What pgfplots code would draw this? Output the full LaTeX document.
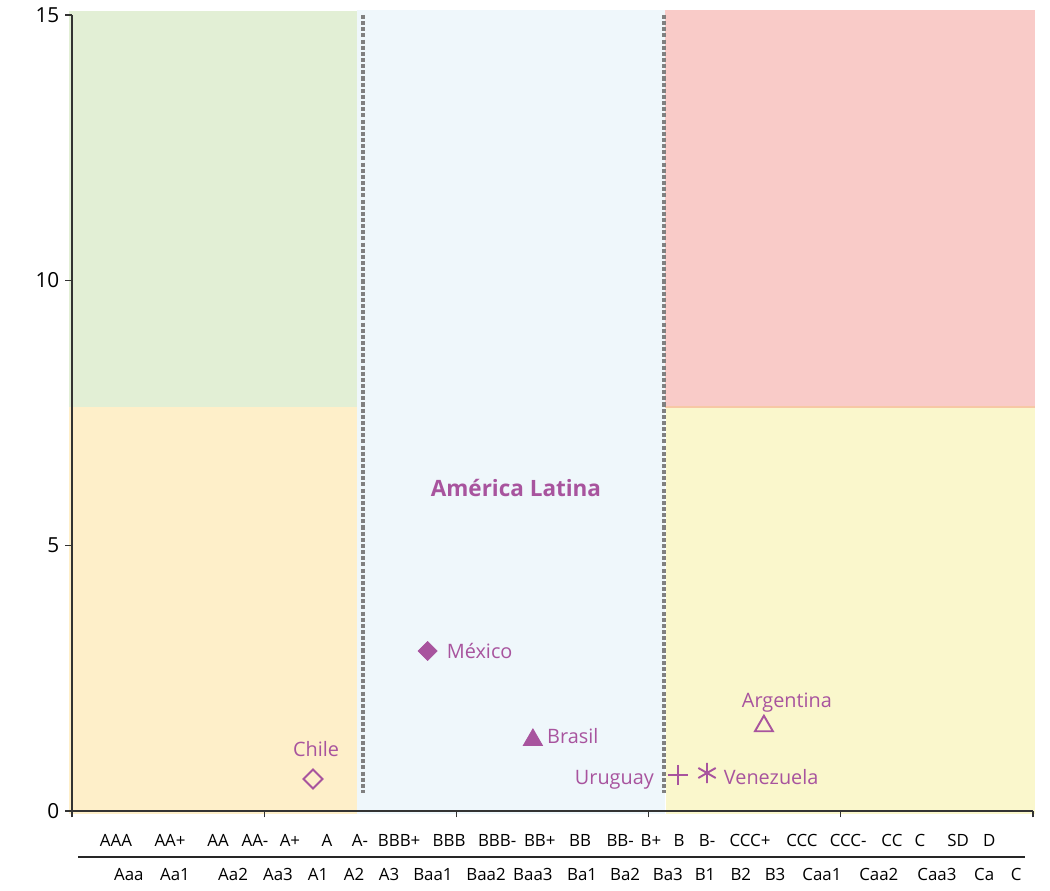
\documentclass[border=0pt]{standalone}
\usepackage{fontspec}
\setmainfont{Open Sans}
\usepackage{pgfplots}
\usepackage{pgfplotstable}
\pgfplotsset{compat=1.18}

\definecolor{zgreen}{RGB}{226,239,213}
\definecolor{zorange}{RGB}{254,239,201}
\definecolor{zblue}{RGB}{239,247,251}
\definecolor{zred}{RGB}{249,203,200}
\definecolor{zyellow}{RGB}{250,247,204}
\definecolor{zedge}{RGB}{247,200,165}
\definecolor{zpurple}{RGB}{168,84,158}
\definecolor{zdash}{RGB}{128,128,128}

% rating scales (S&P / Fitch on top, Moody's below)
\pgfplotstableread{
x y label
1.145 -0.678 AAA
2.55 -0.678 AA+
3.80 -0.678 AA
4.76 -0.678 AA-
5.67 -0.678 A+
6.63 -0.678 A
7.49 -0.678 A-
8.51 -0.678 BBB+
9.81 -0.678 BBB
11.06 -0.678 BBB-
12.17 -0.678 BB+
13.22 -0.678 BB
14.26 -0.678 BB-
15.06 -0.678 B+
15.79 -0.678 B
16.52 -0.678 B-
17.64 -0.678 CCC+
18.99 -0.678 CCC
20.19 -0.678 CCC-
21.33 -0.678 CC
22.06 -0.678 C
23.05 -0.678 SD
23.86 -0.678 D
}\sprow

\pgfplotstableread{
x y label
1.48 -1.319 Aaa
2.68 -1.319 Aa1
4.19 -1.319 Aa2
5.36 -1.319 Aa3
6.40 -1.319 A1
7.34 -1.319 A2
8.25 -1.319 A3
9.39 -1.319 Baa1
10.77 -1.319 Baa2
11.99 -1.319 Baa3
13.27 -1.319 Ba1
14.39 -1.319 Ba2
15.50 -1.319 Ba3
16.47 -1.319 B1
17.40 -1.319 B2
18.29 -1.319 B3
19.51 -1.319 Caa1
20.99 -1.319 Caa2
22.50 -1.319 Caa3
23.73 -1.319 Ca
24.56 -1.319 C
}\moodyrow

\pgfplotsset{
  country/.style={only marks, nodes near coords, point meta=explicit symbolic,
    every node near coord/.append style={inner sep=0pt, text=zpurple,
      font=\fontsize{11.3}{13}\selectfont}},
  ratings/.style={draw=none, nodes near coords, point meta=explicit symbolic,
    every node near coord/.append style={anchor=base, inner sep=0pt,
      font=\fontsize{9.6}{11}\selectfont}},
}

\begin{document}
\begin{tikzpicture}
\begin{axis}[
    width=19.22cm, height=15.92cm, scale only axis,
    xmin=0, xmax=25, ymin=0, ymax=15,
    axis x line=bottom, axis y line=left,
    axis line style={-, black!80, line width=0.6pt},
    xtick={0,5,...,25}, xticklabels={},
    ytick={0,5,10,15},
    tick align=outside, major tick length=0.13cm,
    tick style={black!80, line width=0.6pt},
    yticklabel style={font=\fontsize{11.8}{14}\selectfont},
    /pgf/number format/assume math mode=true,
    clip=false, axis on top,
]
% background zones
\addplot[fill=zgreen, draw=none] coordinates {(-0.08,7.62) (7.42,7.62) (7.42,15.07) (-0.08,15.07)} -- cycle;
\addplot[fill=zorange, draw=none] coordinates {(-0.08,-0.05) (7.42,-0.05) (7.42,7.62) (-0.08,7.62)} -- cycle;
\addplot[fill=zblue, draw=none] coordinates {(7.42,-0.05) (15.43,-0.05) (15.43,15.09) (7.42,15.09)} -- cycle;
\addplot[fill=zred, draw=none] coordinates {(15.43,7.62) (25.05,7.62) (25.05,15.09) (15.43,15.09)} -- cycle;
\addplot[fill=zyellow, draw=none] coordinates {(15.45,-0.05) (25.05,-0.05) (25.05,7.62) (15.45,7.62)} -- cycle;
\addplot[zedge, line width=1.1pt] coordinates {(15.43,7.62) (25.05,7.62)};

% dotted separators
\addplot[zdash, line width=2.7pt, dash pattern=on 2.3pt off 1.2pt] coordinates {(7.57,15) (7.57,0.34)};
\addplot[zdash, line width=2.7pt, dash pattern=on 2.3pt off 1.2pt] coordinates {(15.40,15) (15.40,0.34)};

% rating labels under the axis
\addplot[ratings] table[x=x, y=y, meta=label] {\sprow};
\addplot[ratings] table[x=x, y=y, meta=label] {\moodyrow};
\addplot[black!85, line width=0.9pt] coordinates {(0.16,-0.867) (24.79,-0.867)};

% countries
\addplot[country, mark=square, mark size=3.8pt, mark options={rotate=45, draw=zpurple, line width=1.1pt},
  every node near coord/.append style={anchor=base, xshift=0.06cm, yshift=0.44cm}]
  coordinates {(6.27,0.603) [Chile]};
\addplot[country, mark=square*, mark size=3.8pt, mark options={rotate=45, draw=zpurple, fill=zpurple},
  every node near coord/.append style={anchor=base west, xshift=0.38cm, yshift=-0.16cm}]
  coordinates {(9.25,3.015) [México]};
\addplot[country, mark=triangle*, mark size=6.3pt, mark options={draw=zpurple, fill=zpurple},
  every node near coord/.append style={anchor=base west, xshift=0.28cm, yshift=-0.08cm}]
  coordinates {(11.99,1.34) [Brasil]};
\addplot[country, mark=triangle, mark size=5.9pt, mark options={draw=zpurple, line width=1.1pt},
  every node near coord/.append style={anchor=base, xshift=0.46cm, yshift=0.375cm}]
  coordinates {(18.0,1.60) [Argentina]};
\addplot[country, mark=+, mark size=5.7pt, mark options={draw=zpurple, line width=1.1pt},
  every node near coord/.append style={anchor=base east, xshift=-0.46cm, yshift=-0.18cm}]
  coordinates {(15.76,0.678) [Uruguay]};
\addplot[country, mark=asterisk, mark size=5.7pt, mark options={draw=zpurple, line width=1.1pt},
  every node near coord/.append style={anchor=base west, xshift=0.32cm, yshift=-0.24cm}]
  coordinates {(16.52,0.716) [Venezuela]};

\node[text=zpurple, font=\fontsize{12.8}{15}\selectfont\bfseries] at (axis cs:11.55,6.09) {América Latina};
\end{axis}
\pgfresetboundingbox
\path (-1.44,-1.6) rectangle (19.56,16.22);
\end{tikzpicture}
\end{document}
